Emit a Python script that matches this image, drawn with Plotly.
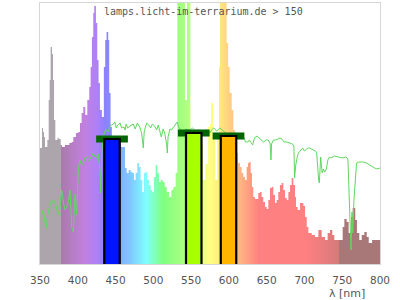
import plotly.graph_objects as go

# ---------------- data ----------------
# lamp spectrum: left edges of steps (last entry = right end) and step heights
lamp_nm = [350, 352.6, 354, 355.3, 356.6, 359.7, 361.5, 362.8, 364.1, 365.9, 367.2, 368.6, 370.3, 373, 374.7,
           377.4, 379, 383, 388.8, 391.9, 394.1, 397.6, 400.7, 402.9, 405.1, 407.3, 409.9, 412.6, 415.2, 417,
           418.7, 420.5, 421.8, 424, 425.8, 427.5, 429.3, 431.9, 434.5, 436.3, 438.1, 440.3, 441.6, 443.4, 445.1,
           450, 456.7, 461.2, 462.5, 464.7, 467.4, 470, 472.2, 474.4, 476.6, 478.8, 481, 483.2, 485.4, 487.6,
           489.9, 492.1, 494.3, 496.5, 498.7, 500.9, 503.1, 505.3, 507.5, 509.7, 512.4, 515, 517.7, 520.8, 523.9,
           526.5, 529.6, 531.8, 541.9, 544.5, 549, 565.3, 569, 572.5, 575, 576.5, 579.4, 582, 584.7, 586.9,
           588.2, 597, 599, 601, 603.7, 605.9, 608, 610.3, 612, 614.7, 616.9, 619.1, 621.3, 623.5, 625.2,
           627, 628.8, 630.5, 632.3, 634.5, 638.9, 641.1, 643.3, 645.5, 647.8, 650, 652.2, 654.4, 656.6, 658.8,
           661, 663.2, 665.4, 667.6, 669.8, 672, 674.3, 676.5, 678.7, 680.9, 683.1, 685.3, 687.5, 688.8, 691,
           694.2, 698.6, 700.8, 703, 705.2, 709.6, 714, 718.4, 722.8, 727.2, 730.7, 733.8, 736.9, 739.5, 746.2,
           750.6, 752.8, 755.9, 758.5, 761.6, 763.8, 767.3, 769.5, 772.6, 775.8, 779.3, 782.4, 785.1, 789.5, 800]
lamp_val = [116, 136, 132, 127, 117, 124, 164, 184, 217, 210, 184, 144, 124, 126, 125,
            119, 117, 119, 121, 122, 127, 131, 132, 141, 151, 157, 149, 164, 177, 197,
            227, 251, 258, 241, 204, 181, 154, 147, 197, 224, 232, 224, 171, 137, 125,
            120, 117, 117, 96, 91, 94, 92, 91, 84, 91, 101, 97, 84, 72, 91,
            92, 84, 79, 74, 72, 87, 99, 91, 82, 84, 82, 77, 72, 67, 74,
            77, 91, 300, 164, 300, 120, 84, 100, 137, 140, 161, 124, 84, 131, 197,
            300, 221, 197, 171, 154, 134, 122, 111, 101, 97, 91, 87, 84, 97, 101,
            102, 91, 77, 67, 65, 71, 72, 67, 62, 57, 55, 64, 76, 77, 69,
            61, 64, 72, 79, 81, 74, 66, 64, 72, 79, 86, 79, 67, 57, 54,
            61, 58, 47, 37, 31, 29, 27, 34, 27, 24, 31, 34, 29, 24, 24,
            37, 45, 42, 31, 47, 56, 44, 31, 24, 29, 32, 27, 21, 24]

# reference (sun) spectrum line
sun_nm = [351.3, 354.4, 356, 358, 361, 363, 365.5, 368, 369.9, 372, 374.3, 376.5, 378.7, 381, 383, 385.3,
          387.5, 389.7, 390.8, 391.9, 394.1, 396.3, 398.5, 400.7, 402.9, 405, 407.3, 409.5, 411.8, 414, 416.2,
          418.4, 420.5, 422.7, 425, 427, 429.4, 430.3, 431.3, 432, 434, 437, 440, 443, 447, 449, 451, 453, 456,
          458, 461.2, 462.5, 464, 466, 469, 473.5, 476, 478.8, 482, 484.5, 486.7, 488, 491.2, 494, 496.5,
          498.7, 501.5, 504.4, 506.5, 508.5, 510.6, 513, 515, 517.7, 518.5, 519.5, 522, 524, 527.3, 529.5,
          531.7, 534, 537, 540, 543, 548, 552, 556, 560, 565, 570, 575, 577, 580, 584, 588, 592, 596, 600,
          605, 609, 612.5, 614, 617, 619.5, 622, 625, 627, 631.5, 633, 635, 637.5, 640, 643, 646, 649, 652,
          654.5, 655.7, 656.5, 659, 662, 665, 667.6, 670, 673, 677, 680.9, 684, 686, 687, 688.5, 690, 691,
          693, 695.5, 697.6, 700, 702, 704.5, 706.5, 709, 712, 714.5, 716.2, 717.5, 718.8, 719.7, 720.5,
          721.5, 722.5, 723.5, 725, 727, 729, 731, 733, 735, 740, 745, 750, 755, 757.5, 759.4, 760.5, 761.6,
          763, 764, 765.5, 767, 769, 772, 778, 782, 786, 790.3, 793, 796, 800]
sun_val = [47, 54, 44, 36, 52, 58, 64, 60, 63, 55, 49, 56, 74, 62, 54, 57,
           62, 74, 60, 37, 32, 70, 49, 94, 104, 99, 101, 106, 107, 103, 105,
           108, 111, 107, 106, 110, 94, 71, 95, 115, 128, 135, 132, 138, 140, 142, 136, 139, 141,
           136, 137, 134, 140, 136, 138, 140, 135, 141, 137, 131, 116, 133, 141, 139, 136,
           140, 138, 134, 139, 132, 127, 135, 131, 119, 111, 127, 135, 134, 137, 140,
           142, 136, 134, 133, 135, 134, 136, 133, 134, 133, 134, 131, 134, 136, 133, 136, 133, 131, 130,
           130, 131, 129, 127, 125, 127, 122, 122, 124, 119, 124, 127, 128, 126, 124, 122, 124, 124,
           121, 104, 120, 124, 124, 125, 126, 125, 122, 122, 121, 120, 118, 86, 99, 105, 109,
           112, 114, 116, 113, 114, 116, 116, 115, 114, 113, 111, 95, 84, 81, 95,
           107, 98, 91, 95, 92, 95, 104, 107, 106, 108, 107, 106, 107, 105, 64, 44, 14,
           52, 31, 64, 84, 101, 102, 102, 101, 99, 97, 96, 95, 96]

# LED channels
led_nm = [445.3, 553.5, 599.5]
led_val = [125, 131, 128]
led_colors = ["#0014ff", "#a8ff00", "#ffb400"]

title_text = "lamps.licht-im-terrarium.de > 150"
tick_vals = [350, 400, 450, 500, 550, 600, 650, 700, 750, 800]
x_label = "λ [nm]"

# ---------------- style ----------------
X0, X1 = 350, 800
Y_TOP = 261
BAR_W = 20.5
CAP_W = 42
CAP_T = 7
spectrum_stops = [
    (350, "#aca6ac"), (377.3, "#aca6ac"), (377.5, "#a87aa8"), (395, "#b87ec8"), (410, "#c080e0"),
    (425, "#b080f8"), (435, "#9080ff"), (447, "#8090ff"), (456, "#80b0ff"), (470, "#80c8ff"),
    (482, "#80e8ff"), (491, "#80ffff"), (504, "#80ffb0"), (513, "#80ff80"), (539, "#a8ff80"),
    (552, "#c0ff80"), (564, "#e8ff80"), (575, "#ffff80"), (585, "#fff080"), (592, "#ffe080"),
    (600, "#ffd080"), (610, "#ffc088"), (625, "#ffa080"), (640, "#ff8080"), (703, "#ff8080"),
    (745.6, "#d67a7a"), (745.8, "#a87878"), (800, "#a87878")]
colorscale = [[(n - X0) / (X1 - X0), c] for n, c in spectrum_stops]

fig = go.Figure()

fig.add_trace(go.Scatter(
    x=lamp_nm, y=lamp_val + [lamp_val[-1]], mode="lines", line=dict(width=0, shape="hv"),
    fill="tozeroy",
    fillgradient=dict(type="horizontal", colorscale=colorscale, start=X0, stop=X1),
    hoverinfo="skip", showlegend=False))

fig.add_trace(go.Scatter(
    x=sun_nm, y=sun_val, mode="lines", line=dict(color="#5fd85f", width=1),
    hoverinfo="skip", showlegend=False))

for c, v, col in zip(led_nm, led_val, led_colors):
    fig.add_trace(go.Scatter(
        x=[c - CAP_W / 2, c + CAP_W / 2], y=[v, v], mode="lines",
        line=dict(color="#006400", width=CAP_T), hoverinfo="skip", showlegend=False))
for c, v, col in zip(led_nm, led_val, led_colors):
    fig.add_trace(go.Scatter(
        x=[c - BAR_W / 2, c - BAR_W / 2, c + BAR_W / 2, c + BAR_W / 2],
        y=[0, v, v, 0], mode="lines", fill="toself", fillcolor=col,
        line=dict(color="black", width=2.2), hoverinfo="skip", showlegend=False))

fig.add_annotation(text=title_text, xref="paper", yref="paper", x=(102 - 40) / 340, y=0.967,
                   xanchor="left", yanchor="middle", showarrow=False,
                   font=dict(family="DejaVu Sans Mono", size=10, color="#555555"))
fig.add_annotation(text=x_label, xref="paper", yref="paper", x=(346.7 - 40) / 340, y=(264 - 293) / 261,
                   xanchor="center", yanchor="middle", showarrow=False,
                   font=dict(family="DejaVu Sans", size=11, color="#555555"))

fig.update_xaxes(range=[X0, X1], tickvals=tick_vals, showgrid=False, zeroline=False,
                 showline=True, mirror=True, linecolor="#d6d6d6", linewidth=1, ticks="",
                 ticklabelstandoff=6,
                 tickfont=dict(family="DejaVu Sans", size=10.5, color="#555555"))
fig.update_yaxes(range=[0, Y_TOP], showgrid=False, zeroline=False, showticklabels=False,
                 showline=True, mirror=True, linecolor="#d6d6d6", linewidth=1, ticks="")
fig.update_layout(width=400, height=300, margin=dict(l=40, r=20, t=3, b=36),
                  paper_bgcolor="white", plot_bgcolor="white", showlegend=False)

fig.write_html("out.html")
